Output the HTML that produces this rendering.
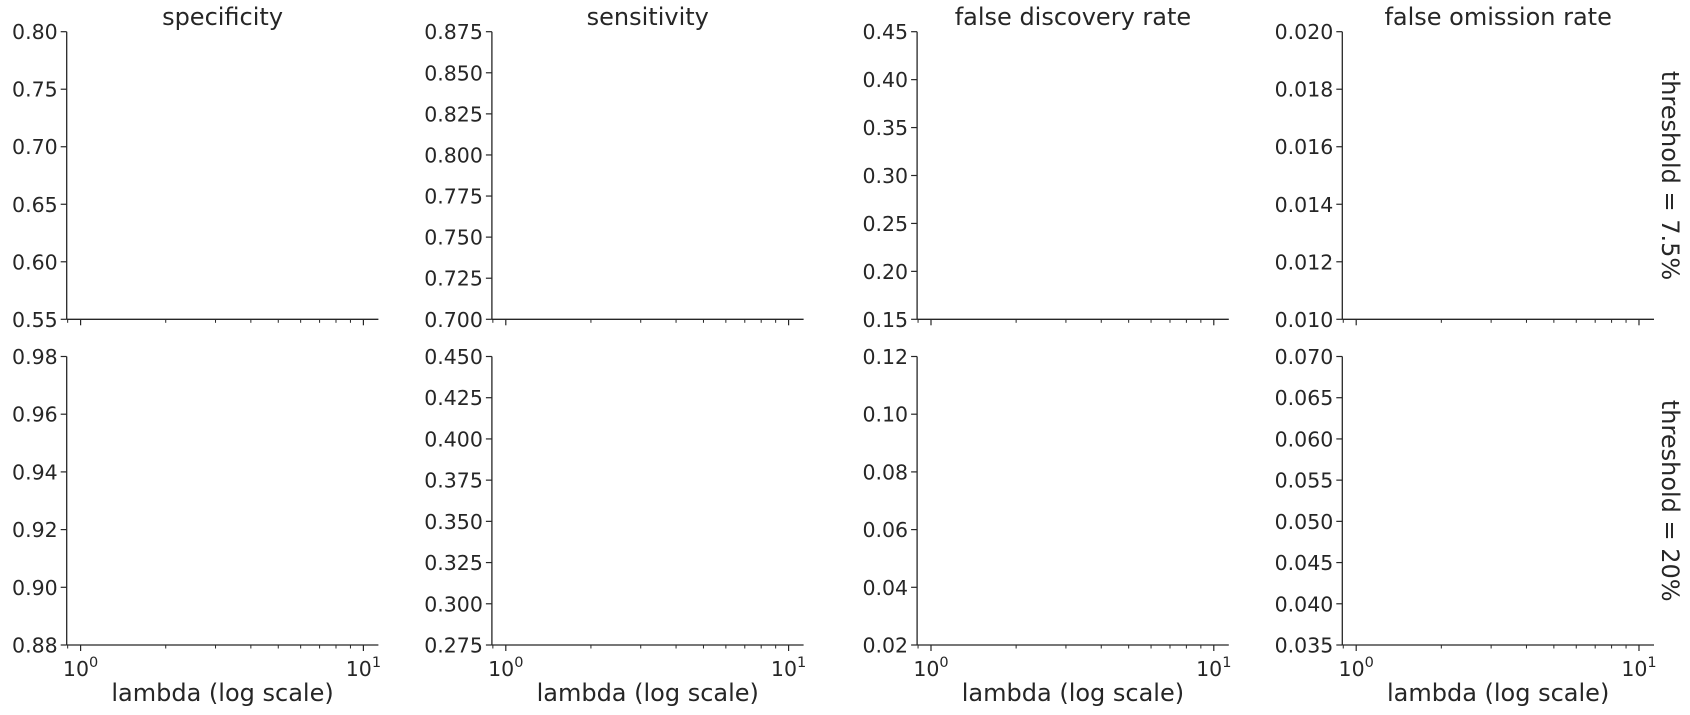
<!DOCTYPE html>
<html><head><meta charset="utf-8">
<style>
html,body{margin:0;padding:0;background:#fff;}
svg{display:block;font-family:"DejaVu Sans","Liberation Sans",sans-serif;}
</style></head>
<body>
<svg id="chart" width="1690" height="715" viewBox="0 0 1690 715"></svg>
<script>
const colTitles = ["specificity","sensitivity","false discovery rate","false omission rate"];
const rowTitles = ["threshold = 7.5%","threshold = 20%"];
const yTicksTop = [
  ["0.55","0.60","0.65","0.70","0.75","0.80"],
  ["0.700","0.725","0.750","0.775","0.800","0.825","0.850","0.875"],
  ["0.15","0.20","0.25","0.30","0.35","0.40","0.45"],
  ["0.010","0.012","0.014","0.016","0.018","0.020"]
];
const yTicksBottom = [
  ["0.88","0.90","0.92","0.94","0.96","0.98"],
  ["0.275","0.300","0.325","0.350","0.375","0.400","0.425","0.450"],
  ["0.02","0.04","0.06","0.08","0.10","0.12"],
  ["0.035","0.040","0.045","0.050","0.055","0.060","0.065","0.070"]
];
const xDomain = [0.893, 11.3];
const xMajor = [1, 10];
const xMinor = [0.9, 2, 3, 4, 5, 6, 7, 8, 9];
const xLabel = "lambda (log scale)";

const svg = document.getElementById('chart');
const NS = "http://www.w3.org/2000/svg";
function mk(tag, attrs, parent){
  const e = document.createElementNS(NS, tag);
  for (const k in attrs) e.setAttribute(k, attrs[k]);
  (parent||svg).appendChild(e);
  return e;
}
const lefts = [66.7, 491.9, 917.1, 1342.3];
const W = 311.7;
const rows = [{top:31.7,bot:319.3},{top:356.5,bot:645}];
const col = "#262626";

rows.forEach((r, ri) => {
  const ticksSet = ri === 0 ? yTicksTop : yTicksBottom;
  lefts.forEach((L, ci) => {
    const g = mk('g', {});
    
    
    const x0 = Math.log10(xDomain[0]), x1 = Math.log10(xDomain[1]);
    const xs = v => L + (Math.log10(v) - x0) / (x1 - x0) * W;
    const ticks = ticksSet[ci];
    const vmin = parseFloat(ticks[0]), vmax = parseFloat(ticks[ticks.length-1]);
    const ys = v => r.bot - (v - vmin) / (vmax - vmin) * (r.bot - r.top);
    // axes
    const ya = mk('line', {x1:L, y1:r.top, x2:L, y2:r.bot, stroke:col, 'stroke-width':1.3}, g);
    
    
    const xa = mk('line', {x1:L, y1:r.bot, x2:L+W, y2:r.bot, stroke:col, 'stroke-width':1.3}, g);
    
    
    ticks.forEach(t => {
      const y = ys(parseFloat(t));
      mk('line', {x1:L-6, y1:y, x2:L, y2:y, stroke:col, 'stroke-width':1.2}, g);
      const tx = mk('text', {x:L-9, y:y+7.5, 'text-anchor':'end', 'font-size':20.5, fill:col}, g);
      
      
      tx.textContent = t;
    });
    xMajor.forEach((v, i) => {
      const x = xs(v);
      mk('line', {x1:x, y1:r.bot, x2:x, y2:r.bot+6, stroke:col, 'stroke-width':1.2}, g);
      if (ri === 1) {
        const tx = mk('text', {x:x, y:r.bot+31, 'text-anchor':'middle', 'font-size':20.5, fill:col}, g);
        
        
        tx.textContent = '10';
        const sup = mk('tspan', {dy:-9, 'font-size':14.5}, tx);
        sup.textContent = String(i);
      }
    });
    xMinor.forEach(v => {
      const x = xs(v);
      if (x < L - 0.5) return;
      mk('line', {x1:x, y1:r.bot, x2:x, y2:r.bot+3.5, stroke:col, 'stroke-width':1}, g);
    });
    if (ri === 0) {
      const t = mk('text', {x:L+W/2, y:25, 'text-anchor':'middle', 'font-size':24, fill:col}, g);
      
      
      t.textContent = colTitles[ci];
    } else {
      const t = mk('text', {x:L+W/2, y:701, 'text-anchor':'middle', 'font-size':24, fill:col}, g);
      
      
      t.textContent = xLabel;
    }
  });
  const cy = (r.top + r.bot) / 2;
  const rt = mk('text', {x:1662, y:cy, 'text-anchor':'middle', 'font-size':24, fill:col, transform:'rotate(90 1662 ' + cy + ')'});
  
  
  rt.textContent = rowTitles[ri];
});
</script>
</body></html>
